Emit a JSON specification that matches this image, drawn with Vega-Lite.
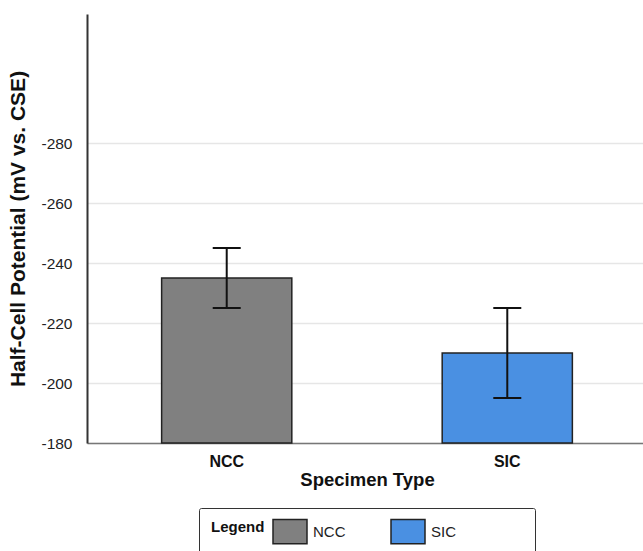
{
  "$schema": "https://vega.github.io/schema/vega-lite/v6.json",
  "autosize": "none",
  "padding": {"left": 87, "top": 14, "right": -4, "bottom": 108},
  "width": 560,
  "height": 429,
  "background": "white",
  "data": {"values": [
    {"type": "NCC", "mean": -235, "lo": -225, "hi": -245},
    {"type": "SIC", "mean": -210, "lo": -195, "hi": -225}
  ]},
  "encoding": {
    "x": {
      "field": "type", "type": "nominal", "sort": ["NCC", "SIC"],
      "scale": {"paddingInner": 0.536, "paddingOuter": 0.266},
      "axis": {
        "title": "Specimen Type", "labelAngle": 0, "ticks": false,
        "labelFont": "Liberation Sans", "labelFontSize": 16, "labelFontWeight": "bold", "labelColor": "#111", "labelPadding": 10,
        "titleFont": "Liberation Sans", "titleFontSize": 18.5, "titleFontWeight": "bold", "titleColor": "#111", "titlePadding": 1,
        "domainColor": "#777", "domainWidth": 1.5, "grid": false
      }
    }
  },
  "layer": [
    {
      "mark": {"type": "bar", "stroke": "#222", "strokeWidth": 1.5, "opacity": 1},
      "encoding": {
        "y": {
          "field": "mean", "type": "quantitative",
          "scale": {"domain": [-180, -323], "nice": false, "zero": false},
          "axis": {
            "title": "Half-Cell Potential (mV vs. CSE)",
            "values": [-180, -200, -220, -240, -260, -280],
            "labelExpr": "'' + datum.value",
            "ticks": false, "labelPadding": 15,
            "labelFont": "Liberation Sans", "labelFontSize": 15.5, "labelColor": "#222",
            "titleFont": "Liberation Sans", "titleFontSize": 21, "titleFontWeight": "bold", "titleColor": "#111", "titlePadding": 12,
            "domainColor": "#333", "domainWidth": 2,
            "grid": true, "gridColor": "#e6e6e6", "gridWidth": 1.5
          }
        },
        "y2": {"datum": -180},
        "color": {
          "field": "type", "type": "nominal",
          "scale": {"domain": ["NCC", "SIC"], "range": ["#808080", "#4a90e2"]},
          "legend": {
            "title": "Legend", "orient": "none", "legendX": 112, "legendY": 494,
            "direction": "horizontal", "titleOrient": "left",
            "titleFont": "Liberation Sans", "titleFontSize": 15, "titleFontWeight": "bold", "titleColor": "#111", "titlePadding": 7,
            "labelFont": "Liberation Sans", "labelFontSize": 15, "labelColor": "#222", "labelOffset": 5,
            "columnPadding": 42,
            "symbolType": "M-1,-1.1L1,-1.1L1,0.32L-1,0.32Z", "symbolSize": 1156,
            "symbolStrokeColor": "#222", "symbolStrokeWidth": 1.5, "symbolOpacity": 1,
            "strokeColor": "#333", "fillColor": "white", "padding": 12, "cornerRadius": 2,
            "labelExpr": "datum.label == 'SIC' ? 'SIC\u00a0\u00a0\u00a0\u00a0\u00a0\u00a0\u00a0\u00a0\u00a0\u00a0\u00a0\u00a0\u00a0\u00a0\u00a0\u00a0\u200b' : datum.label",
            "encode": {
              "labels": {"update": {"dy": {"value": -6}}},
              "title": {"update": {"dy": {"value": -6}}}
            }
          }
        }
      }
    },
    {
      "mark": {"type": "rule", "color": "#111", "strokeWidth": 2},
      "encoding": {
        "y": {"field": "lo", "type": "quantitative"},
        "y2": {"field": "hi"}
      }
    },
    {
      "mark": {"type": "tick", "color": "#111", "size": 28, "thickness": 2, "opacity": 1},
      "encoding": {"y": {"field": "lo", "type": "quantitative"}}
    },
    {
      "mark": {"type": "tick", "color": "#111", "size": 28, "thickness": 2, "opacity": 1},
      "encoding": {"y": {"field": "hi", "type": "quantitative"}}
    }
  ],
  "config": {"view": {"stroke": null}}
}
